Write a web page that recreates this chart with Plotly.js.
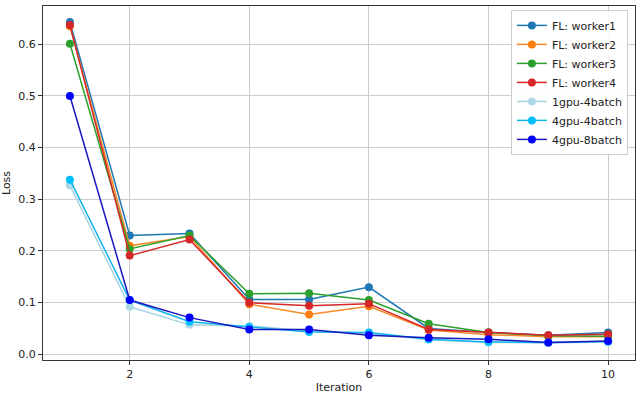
<!DOCTYPE html>
<html>
<head>
<meta charset="utf-8">
<script src="https://cdn.plot.ly/plotly-3.0.1.min.js"></script>
<style>
  html, body { margin: 0; padding: 0; background: #fff; }
  #chart { width: 640px; height: 394px; }
</style>
</head>
<body>
<div id="chart"></div>
<script>
// iterations on the x axis
var iterations = [1, 2, 3, 4, 5, 6, 7, 8, 9, 10];

// loss values
var worker1 = [0.643, 0.230, 0.234, 0.106, 0.106, 0.130, 0.050, 0.042, 0.037, 0.042];
var worker2 = [0.635, 0.210, 0.228, 0.097, 0.077, 0.093, 0.047, 0.038, 0.034, 0.034];
var worker3 = [0.601, 0.204, 0.230, 0.117, 0.118, 0.105, 0.059, 0.042, 0.036, 0.035];
var worker4 = [0.637, 0.191, 0.222, 0.100, 0.094, 0.098, 0.048, 0.042, 0.037, 0.039];
var gpu1batch4 = [0.327, 0.092, 0.057, 0.055, 0.045, 0.041, 0.028, 0.023, 0.022, 0.024];
var gpu4batch4 = [0.338, 0.105, 0.063, 0.053, 0.043, 0.042, 0.029, 0.024, 0.023, 0.025];
var gpu4batch8 = [0.500, 0.105, 0.071, 0.048, 0.048, 0.037, 0.032, 0.029, 0.023, 0.026];

var seriesNames = ["FL: worker1", "FL: worker2", "FL: worker3", "FL: worker4",
                   "1gpu-4batch", "4gpu-4batch", "4gpu-8batch"];
var seriesValues = [worker1, worker2, worker3, worker4, gpu1batch4, gpu4batch4, gpu4batch8];
var seriesColors = ["#1f77b4", "#ff7f0e", "#2ca02c", "#d62728", "#add8e6", "#00bfff", "#0000ff"];
// thin lines look a bit darker than the markers in the picture
var lineColors = ["#1f77b4", "#f58a2a", "#2ca02c", "#d62728", "#a8d4e4", "#10b4ea", "#1818c0"];

var data = seriesNames.map(function (name, i) {
    return {
        x: iterations,
        y: seriesValues[i],
        type: 'scatter',
        mode: 'lines+markers',
        name: name,
        line: { color: lineColors[i], width: 1.5 },
        marker: { color: seriesColors[i], size: 8 }
    };
});

var axisStyle = {
    showline: true,
    mirror: true,
    linecolor: '#333',
    linewidth: 1,
    showgrid: true,
    gridcolor: '#cccccc',
    gridwidth: 1,
    zeroline: false,
    ticks: 'outside',
    ticklen: 4,
    tickcolor: '#333',
    tickfont: { size: 11, color: '#222' }
};

var layout = {
    width: 640,
    height: 394,
    margin: { l: 43, r: 5, t: 6, b: 34 },
    paper_bgcolor: '#fff',
    plot_bgcolor: '#fff',
    font: { family: 'DejaVu Sans, sans-serif', color: '#222' },
    xaxis: Object.assign({}, axisStyle, {
        range: [0.55, 10.45],
        tickvals: [2, 4, 6, 8, 10],
        title: { text: 'Iteration', font: { size: 11 }, standoff: 4 }
    }),
    yaxis: Object.assign({}, axisStyle, {
        range: [-0.011, 0.674],
        tickvals: [0, 0.1, 0.2, 0.3, 0.4, 0.5, 0.6],
        tickformat: '.1f',
        title: { text: 'Loss', font: { size: 11 }, standoff: 6 }
    }),
    legend: {
        x: 0.988,
        y: 0.989,
        xanchor: 'right',
        yanchor: 'top',
        bgcolor: 'rgba(255,255,255,0.9)',
        bordercolor: '#ccc',
        borderwidth: 1,
        font: { size: 11, color: '#222' },
        tracegroupgap: 0
    },
    showlegend: true
};

Plotly.newPlot('chart', data, layout, { displayModeBar: false, staticPlot: true });
</script>
</body>
</html>
